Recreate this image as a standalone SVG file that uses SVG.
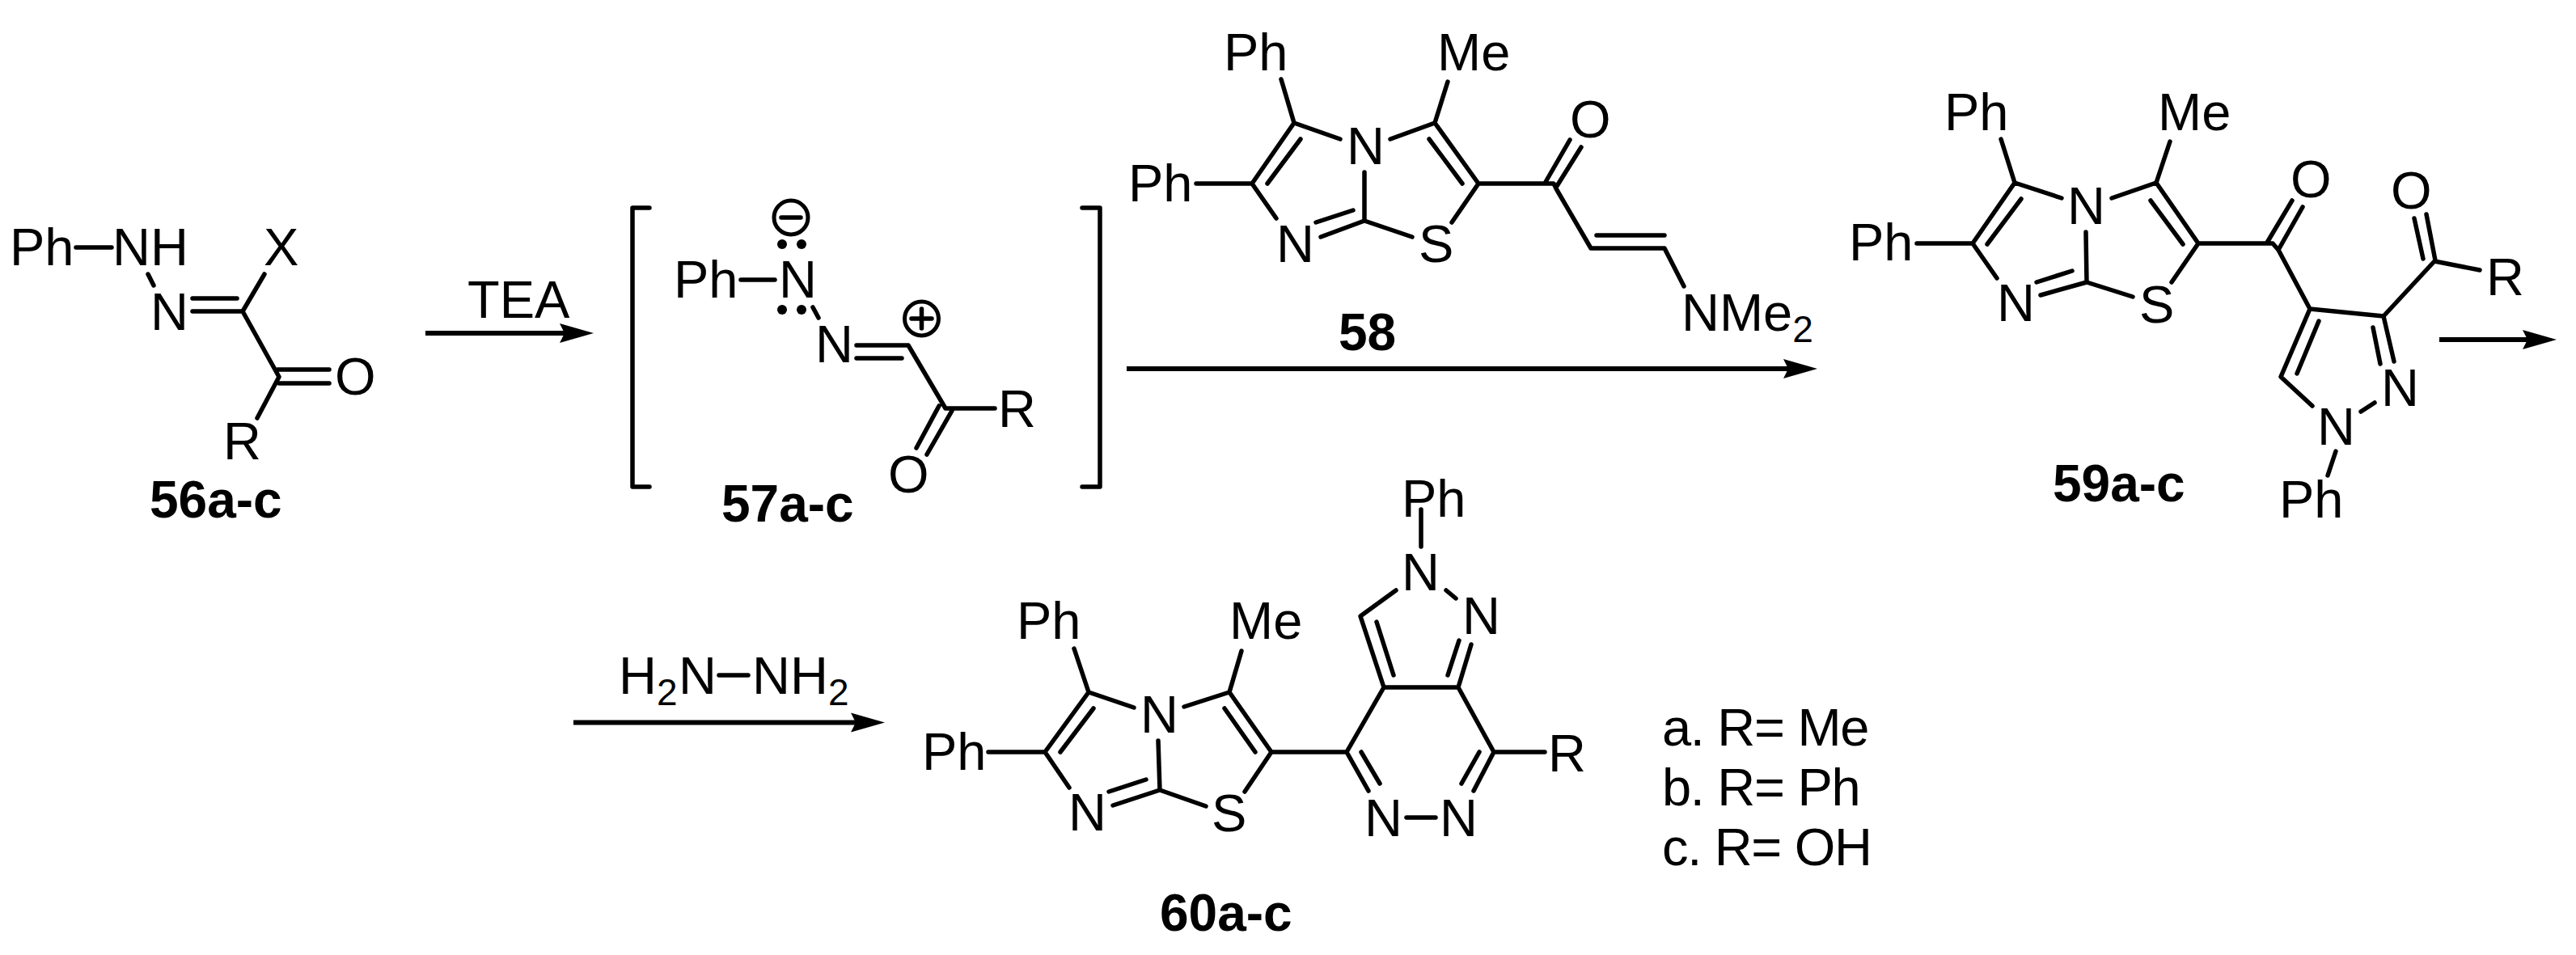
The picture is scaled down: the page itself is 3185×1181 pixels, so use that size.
<svg xmlns="http://www.w3.org/2000/svg" width="3185" height="1181" viewBox="0 0 3185 1181">
<style>
text{font-family:"Liberation Sans",Arial,sans-serif;font-size:65px;fill:#000}
.b{font-weight:700;font-size:64px}
.s{font-size:46px}
.l{letter-spacing:-1.3px}
.bond{fill:none;stroke:#000;stroke-width:5.500;stroke-linecap:round;stroke-linejoin:round}
.arrow{fill:none;stroke:#000;stroke-width:6;marker-end:url(#head)}
.dot{fill:#000}
.chg{fill:none;stroke:#000;stroke-width:5}
</style>
<defs>
<marker id="head" markerUnits="userSpaceOnUse" markerWidth="43" markerHeight="28" viewBox="0 0 43 28" refX="6" refY="14" orient="auto"><path d="M0,2 L6,14 L0,26 L42,14Z" fill="#000"/></marker>
</defs>
<rect width="3185" height="1181" fill="#fff"/>
<g id="connectors">
<line class="arrow" x1="526" y1="412" x2="698" y2="412"/>
<line class="arrow" x1="1393" y1="456" x2="2211" y2="456"/>
<line class="arrow" x1="3016" y1="420" x2="3125" y2="420"/>
<line class="arrow" x1="709" y1="893.5" x2="1058" y2="893.5"/>
</g>
<g id="reagent-tea"><text x="578" y="393">TEA</text></g>
<g id="reagent-hydrazine">
<text x="765" y="858">H<tspan class="s" dy="14">2</tspan></text>
<text x="839" y="858">N</text>
<path class="bond" d="M889,835H925"/>
<text x="930" y="858">NH<tspan class="s" dy="14">2</tspan></text>
</g>
<g id="compound-56">
<path class="bond" d="M94,306H138M183,339L190,353M238,369H293M238,385H300L327,339M300,385L345,466L318,517M343,457H407M345,474H407"/>
<text x="12" y="328">Ph</text>
<text x="139" y="328">NH</text>
<text x="326" y="328">X</text>
<text x="186" y="408">N</text>
<text x="414" y="488">O</text>
<text x="276" y="568">R</text>
<text class="b" x="185" y="640">56a-c</text>
</g>
<g id="compound-57">
<path class="bond" d="M803,257H782V602H803M1338,257H1360V602H1338M916,346H958M1005,380L1012,393M1059,427H1123L1169,505H1230M1059,443H1115M1161,502L1133,554M1177,508L1146,562"/>
<circle class="chg" cx="978" cy="269" r="21"/>
<path class="bond" d="M966,269H990M1127,394H1152M1139.500,382V406"/>
<circle class="chg" cx="1139.500" cy="394" r="21"/>
<circle class="dot" cx="967" cy="302" r="6"/><circle class="dot" cx="991" cy="302" r="6"/>
<circle class="dot" cx="967" cy="383" r="6"/><circle class="dot" cx="991" cy="383" r="6"/>
<text x="833" y="368">Ph</text>
<text x="963" y="368">N</text>
<text x="1008" y="448">N</text>
<text x="1234" y="528">R</text>
<text x="1098" y="609">O</text>
<text class="b" x="892" y="645">57a-c</text>
</g>
<g id="compound-58">
<path class="bond" d="M1584,98L1600,152L1657,172M1600,152L1548,227L1578,270M1567,227L1608,172M1479,227H1548M1719,172L1774,152L1790,101M1774,152L1828,227L1795,275M1767,172L1808,227M1687,213V273L1746,293M1687,273L1633,293M1673,260L1627,275M1828,227H1921L1925,235L1967,307H2058L2082,354M1974,291H2058M1911,225L1941,173M1925,230L1955,182"/>
<text x="1513" y="87">Ph</text>
<text x="1777" y="87">Me</text>
<text x="1395" y="249">Ph</text>
<text x="1665" y="203">N</text>
<text x="1578" y="324">N</text>
<text x="1754" y="324">S</text>
<text x="1941" y="170">O</text>
<text x="2079" y="409">NMe<tspan class="s" dy="14">2</tspan></text>
<text class="b" x="1655" y="433">58</text>
</g>
<g id="compound-59">
<path class="bond" d="M2474,172L2491,226L2549,245M2491,226L2439,301L2469,344M2457,302L2499,246M2370,301H2439M2611,245L2666,226L2683,175M2666,226L2718,301L2685,349M2659,248L2699,302M2579,287L2580,349L2637,367M2580,349L2523,365M2562,335L2518,349M2718,301H2810L2817,309L2856,382L2947,391L3010,323L3066,334M2803,300L2834,248M2817,309L2847,256M3011,322L3000,265M2996,320L2985,270M2947,391L2960,447M2934,405L2943,450M2936,498L2919,509M2856,382L2820,466L2859,502M2867,397L2840,462M2888,558L2878,588"/>
<text x="2404" y="161">Ph</text>
<text x="2668" y="161">Me</text>
<text x="2286" y="322">Ph</text>
<text x="2556" y="277">N</text>
<text x="2469" y="397">N</text>
<text x="2645" y="399">S</text>
<text x="2832" y="244">O</text>
<text x="2956" y="258">O</text>
<text x="3074" y="365">R</text>
<text x="2944" y="502">N</text>
<text x="2865" y="550">N</text>
<text x="2818" y="640">Ph</text>
<text class="b" x="2538" y="620">59a-c</text>
</g>
<g id="compound-60">
<path class="bond" d="M1328,802L1346,856L1402,875M1346,856L1292,930L1322,974M1311,930L1352,876M1222,930H1292M1464,874L1520,856L1535,805M1520,856L1572,930L1539,979M1514,876L1552,930M1432,916L1434,977L1491,997M1434,977L1376,996M1417,964L1371,979M1572,930H1665L1692,978M1683,930L1706,969M1665,930L1711,850H1803L1847,930L1822,978M1829,930L1807,969M1847,930H1910M1739,1011H1775M1711,850L1682,762L1726,730M1723,835L1702,769M1757,630V676M1788,730L1800,740M1803,850L1819,797M1790,835L1804,792"/>
<text x="1257" y="790">Ph</text>
<text x="1520" y="790">Me</text>
<text x="1140" y="952">Ph</text>
<text x="1410" y="906">N</text>
<text x="1321" y="1027">N</text>
<text x="1498" y="1028">S</text>
<text x="1733" y="730">N</text>
<text x="1808" y="784">N</text>
<text x="1733" y="639">Ph</text>
<text x="1687" y="1034">N</text>
<text x="1780" y="1034">N</text>
<text x="1914" y="954">R</text>
<text class="b" x="1434" y="1151">60a-c</text>
</g>
<g id="legend">
<text class="l" x="2055" y="922">a. R= Me</text>
<text class="l" x="2055" y="996">b. R= Ph</text>
<text class="l" x="2055" y="1070">c. R= OH</text>
</g>
</svg>
